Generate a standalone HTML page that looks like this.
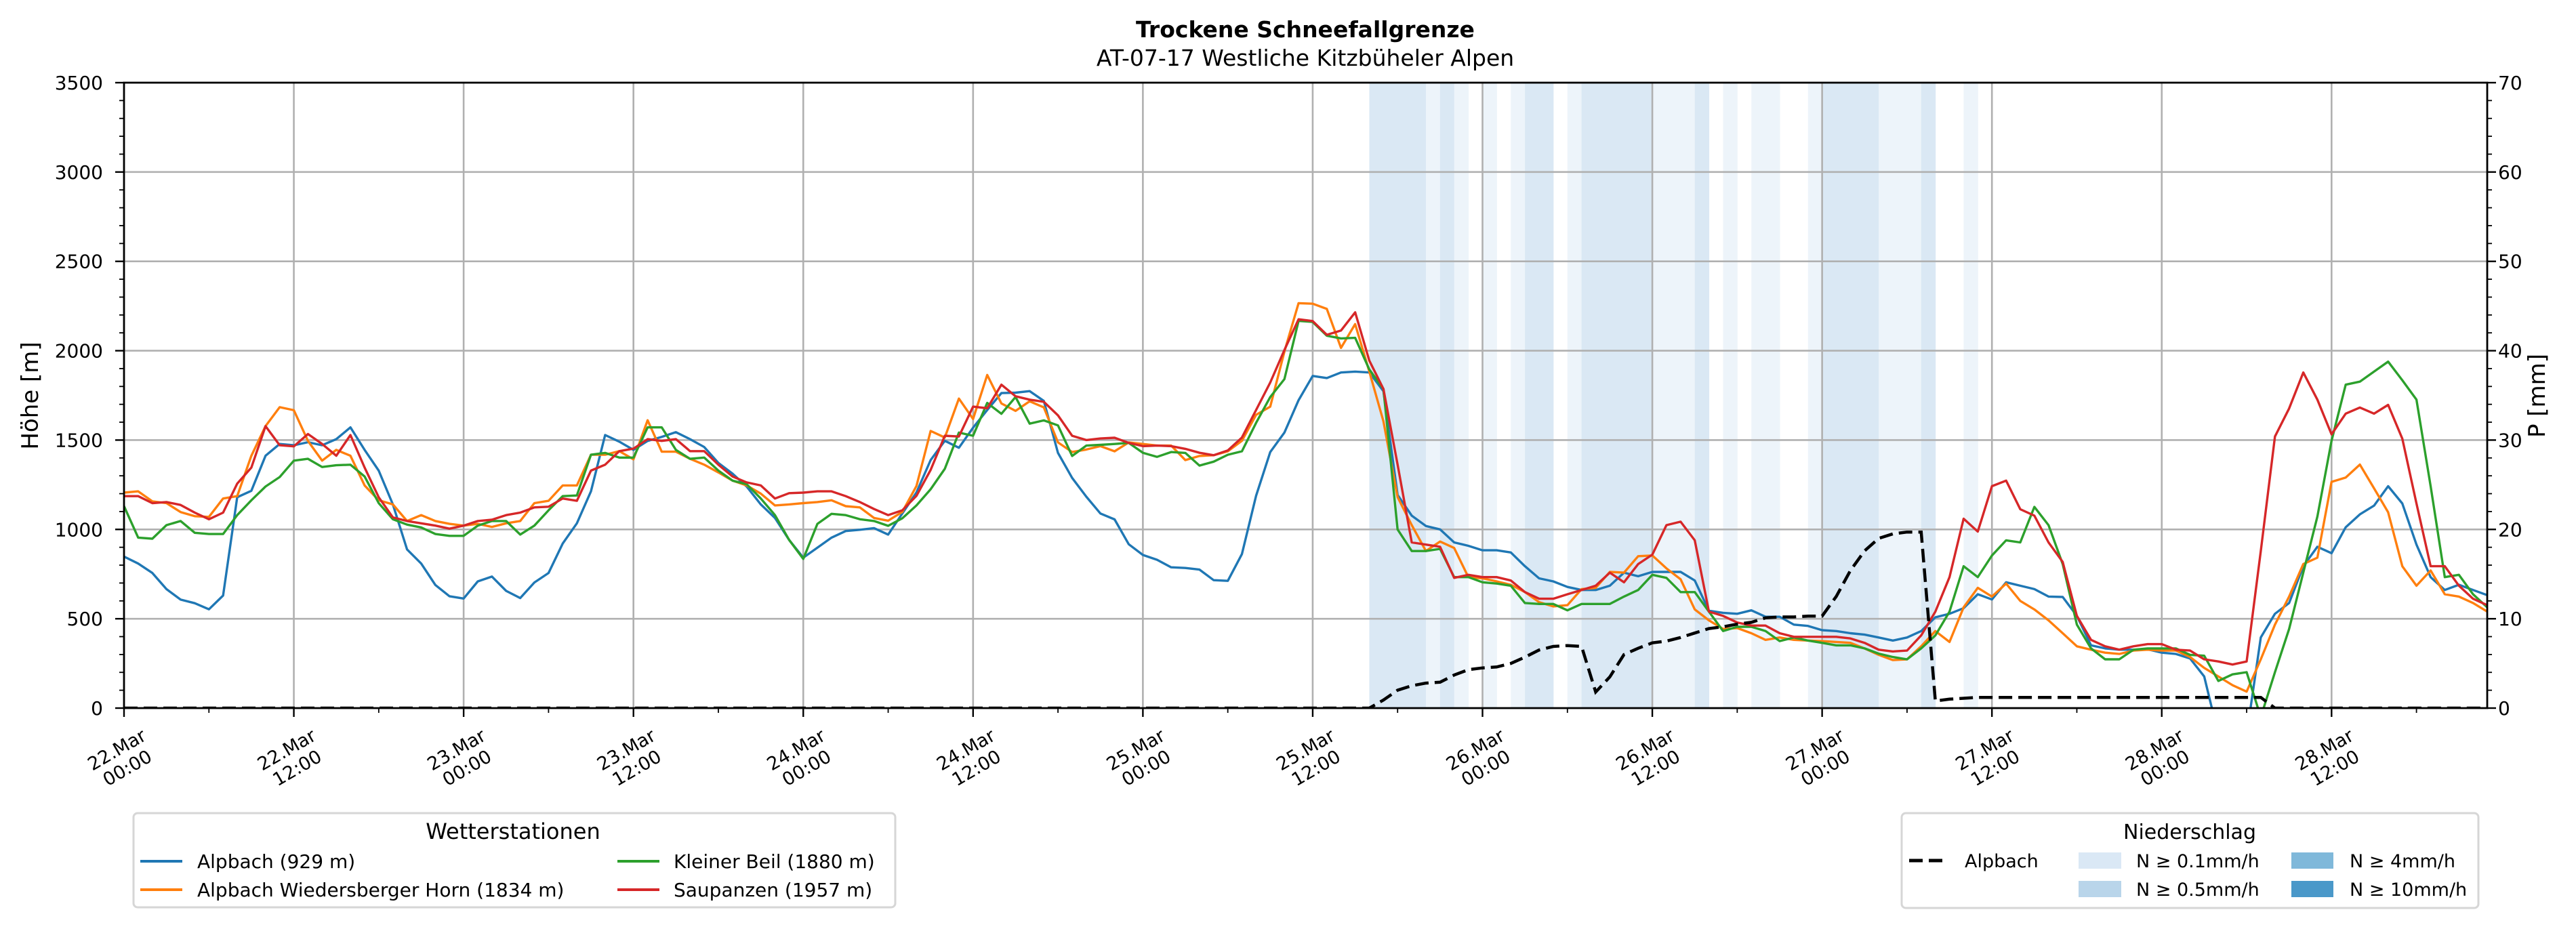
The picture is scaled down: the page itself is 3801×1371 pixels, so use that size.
<!DOCTYPE html>
<html><head><meta charset="utf-8">
<style>
html,body{margin:0;padding:0;background:#fff;}
svg{display:block;font-family:"DejaVu Sans","Liberation Sans",sans-serif;}
</style></head>
<body>
<svg id="chart" width="3801" height="1371" viewBox="0 0 3801 1371" xmlns="http://www.w3.org/2000/svg">
  <defs><clipPath id="plotclip"><rect x="183" y="122" width="3487" height="923"/></clipPath></defs>
  <rect x="0" y="0" width="3801" height="1371" fill="#fff"/>
  <text x="1926" y="55" text-anchor="middle" font-size="33" font-weight="bold">Trockene Schneefallgrenze</text>
  <text x="1926" y="97" text-anchor="middle" font-size="33">AT-07-17 Westliche Kitzbüheler Alpen</text>
  <g id="bands"></g>
  <g id="grid"></g>
  <g id="series" clip-path="url(#plotclip)"></g>
  <g id="axes"></g>
  <text transform="translate(56,584) rotate(-90)" text-anchor="middle" font-size="34">Höhe [m]</text>
  <text transform="translate(3755,584) rotate(-90)" text-anchor="middle" font-size="34">P [mm]</text>

  <g>
    <rect x="197" y="1200" width="1124" height="139" rx="6" fill="#fff" stroke="#d6d6d6" stroke-width="3"/>
    <text x="757" y="1238" text-anchor="middle" font-size="32">Wetterstationen</text>
    <g>
      <line x1="207" y1="1271" x2="269" y2="1271" stroke="#1f77b4" stroke-width="4"/>
      <text x="291" y="1281" font-size="28">Alpbach (929 m)</text></g>
    <g>
      <line x1="207" y1="1313" x2="269" y2="1313" stroke="#ff7f0e" stroke-width="4"/>
      <text x="291" y="1323" font-size="28">Alpbach Wiedersberger Horn (1834 m)</text></g>
    <g>
      <line x1="911" y1="1271" x2="973" y2="1271" stroke="#2ca02c" stroke-width="4"/>
      <text x="994" y="1281" font-size="28">Kleiner Beil (1880 m)</text></g>
    <g>
      <line x1="911" y1="1313" x2="973" y2="1313" stroke="#d62728" stroke-width="4"/>
      <text x="994" y="1323" font-size="28">Saupanzen (1957 m)</text></g>
  </g>

  <g>
    <rect x="2806" y="1200" width="851" height="140" rx="6" fill="#fff" stroke="#d6d6d6" stroke-width="3"/>
    <text x="3231" y="1238" text-anchor="middle" font-size="30">Niederschlag</text>
    <g>
      <line x1="2817" y1="1270" x2="2872" y2="1270" stroke="#000" stroke-width="5" stroke-dasharray="20 9"/>
      <text x="2899" y="1280" font-size="27">Alpbach</text></g>
    <g>
      <rect x="3067" y="1258" width="63" height="24" fill="#dae8f5"/>
      <text x="3152" y="1280" font-size="27">N ≥ 0.1mm/h</text></g>
    <g>
      <rect x="3067" y="1300" width="63" height="24" fill="#b9d5ea"/>
      <text x="3152" y="1322" font-size="27">N ≥ 0.5mm/h</text></g>
    <g>
      <rect x="3381" y="1258" width="62" height="24" fill="#7fb8da"/>
      <text x="3467" y="1280" font-size="27">N ≥ 4mm/h</text></g>
    <g>
      <rect x="3381" y="1300" width="62" height="24" fill="#4a98c9"/>
      <text x="3467" y="1322" font-size="27">N ≥ 10mm/h</text></g>
  </g>
</svg>
<script>
// ---- data (hourly, 22.Mar 00:00 .. 28.Mar 23:00) ----
const hoursCount = 168;
const alpbach = [848,809,756,666,607,587,553,630,1180,1216,1412,1478,1471,1488,1471,1505,1571,1445,1329,1140,888,809,689,626,613,709,736,656,616,703,756,921,1034,1213,1528,1491,1445,1495,1518,1544,1505,1461,1372,1312,1240,1140,1064,941,842,898,954,991,998,1007,
971,1089,1207,1388,1496,1457,1569,1668,1763,1765,1774,1719,1428,1288,1183,1089,1056,917,857,830,788,784,775,716,712,862,1188,1433,1542,1723,
1859,1847,1878,1883,1878,1774,1193,1077,1019,1000,927,908,883,883,871,794,726,709,678,661,661,685,758,738,762,762,762,714,545,533,528,547,511,511,467,460,436,431,419,411,395,378,395,431,508,528,559,637,608,704,685,666,624,622,516,351,334,327,327,329,310,303,278,177,-150,-150,-150,395,528,588,794,903,867,1012,1084,1133,1242,1145,915,733,661,690,661,632];
const wiedersberger = [1206,1213,1157,1147,1097,1074,1070,1173,1186,1412,1578,1684,1667,1495,1385,1445,1412,1246,1163,1140,1047,1080,1047,1031,1021,1031,1014,1034,1047,1147,1160,1246,1246,1418,1418,1438,1392,1611,1435,1435,1395,1362,1319,1273,1246,1200,1134,1140,1147,1153,1163,1130,1123,1064,
1049,1098,1243,1551,1514,1732,1618,1864,1705,1663,1717,1683,1487,1433,1447,1466,1437,1487,1478,1469,1469,1388,1411,1415,1437,1496,1641,1687,1995,2266,
2263,2234,2016,2149,1883,1605,1181,1024,879,932,896,733,726,709,690,649,593,569,576,666,673,762,758,850,854,782,721,552,491,443,448,419,382,395,382,378,375,370,365,334,298,269,273,346,431,370,564,673,624,697,600,552,491,419,346,327,310,303,322,327,322,322,286,225,177,128,92,273,467,624,806,842,1266,1290,1363,1230,1096,794,685,770,637,624,588,540];
const kleinerBeil = [1130,954,948,1024,1047,981,974,974,1080,1163,1240,1293,1385,1395,1349,1359,1362,1296,1147,1057,1027,1011,974,964,964,1021,1047,1047,971,1021,1107,1186,1190,1418,1428,1402,1402,1571,1571,1445,1395,1402,1329,1273,1253,1173,1080,941,835,1031,1087,1080,1057,1047,
1020,1062,1134,1225,1339,1542,1524,1708,1647,1741,1592,1610,1582,1411,1469,1473,1478,1484,1429,1406,1433,1428,1357,1379,1418,1437,1596,1741,1841,2167,
2161,2084,2069,2072,1895,1786,1000,879,879,891,733,733,704,697,685,588,583,583,547,583,583,583,624,661,746,729,649,649,540,431,455,455,431,375,395,378,365,351,351,334,305,286,273,334,407,540,794,733,854,939,927,1126,1024,806,467,334,273,273,327,334,334,334,298,293,152,189,201,-50,201,443,758,1072,1496,1810,1827,1883,1939,1835,1726,1242,733,746,637,564];
const saupanzen = [1186,1186,1147,1153,1137,1094,1057,1094,1256,1346,1578,1471,1465,1534,1478,1412,1528,1346,1180,1067,1047,1034,1021,1004,1021,1047,1054,1080,1094,1123,1127,1173,1160,1329,1362,1438,1452,1505,1495,1505,1438,1438,1362,1296,1263,1246,1173,1203,1206,1213,1213,1186,1153,1114,
1080,1107,1188,1333,1524,1520,1687,1678,1810,1745,1726,1714,1638,1524,1500,1509,1513,1484,1466,1469,1466,1451,1429,1415,1442,1514,1668,1822,2004,2176,
2166,2089,2113,2215,1944,1786,1363,927,915,903,729,746,733,733,714,649,612,612,637,661,685,758,704,806,859,1024,1043,939,540,516,479,462,462,419,399,399,399,399,390,365,327,317,322,407,540,733,1060,988,1242,1273,1113,1077,927,818,516,382,346,327,346,358,358,327,322,273,261,244,261,879,1520,1677,1878,1726,1532,1648,1682,1648,1697,1508,1145,794,794,685,612,576];
const precipHours = [88,89,90,91,92,93,94,95,96,97,98,99,100,101,102,103,104,105,106,107,108,109,110,111,112,113,114,115,116,117,118,119,120,121,122,123,124,125,126,127,128,129,130];
const precipValues = [0,0.9,2.0,2.5,2.8,2.9,3.7,4.3,4.5,4.6,5.0,5.7,6.5,6.9,7.0,6.9,1.8,3.5,6.0,6.7,7.3,7.5,7.9,8.4,8.9,9.1,9.4,9.6,10.1,10.2,10.2,10.3,10.3,12.5,15.4,17.6,19.0,19.5,19.7,19.7,0.8,1.0,1.1];
const precipTailValue = 1.2;   // hours 131..151
const precipTailEnd = 151;
const bandHours = [88,89,90,91,92,93,94,96,98,99,100,102,103,104,105,106,107,108,109,110,111,113,115,116,119,120,121,122,123,124,125,126,127,130];
const bandClass = [2,2,2,2,1,2,1,1,1,2,2,1,2,2,2,2,2,1,1,1,2,1,1,1,1,2,2,2,2,1,1,1,2,1];
const yTicksLeft = [0,500,1000,1500,2000,2500,3000,3500];
const yTicksRight = [0,10,20,30,40,50,60,70];

// ---- scales ----
const X0=183, X1=3670, Y0=1045, Y1=122, HMAX=167;
const xs = h => X0 + h*(X1-X0)/HMAX;
const yL = m => Y0 - m*(Y0-Y1)/3500;
const yR = mm => Y0 - mm*(Y0-Y1)/70;
const NS='http://www.w3.org/2000/svg';
function mk(tag, attrs, parent){const e=document.createElementNS(NS,tag);for(const k in attrs)e.setAttribute(k,attrs[k]);parent.appendChild(e);return e;}

// bands
const bandsG=document.getElementById('bands');
const bandColors={1:'#edf4fa',2:'#dae8f4'};
bandHours.forEach((h,i)=>{
  const r=mk('rect',{x:xs(h),y:Y1,width:xs(h+1)-xs(h)+0.5,height:Y0-Y1,fill:bandColors[bandClass[i]]},bandsG);
  
  
});

// grid
const gridG=document.getElementById('grid');
yTicksLeft.forEach(v=>{ if(v>0&&v<3500){const l=mk('line',{x1:X0,x2:X1,y1:yL(v),y2:yL(v),stroke:'#b0b0b0','stroke-width':2.6},gridG);
  
  }});
for(let h=12;h<=HMAX;h+=12){const l=mk('line',{x1:xs(h),x2:xs(h),y1:Y1,y2:Y0,stroke:'#b0b0b0','stroke-width':2.6},gridG);
  
  }

// series
const seriesG=document.getElementById('series');
function poly(vals, color, name){
  const pts=vals.map((v,i)=>xs(i).toFixed(1)+','+yL(v).toFixed(1)).join(' ');
  const p=mk('polyline',{points:pts,fill:'none',stroke:color,'stroke-width':3.4,'stroke-linejoin':'round'},seriesG);
  
  
}
poly(alpbach,'#1f77b4','line-alpbach');
poly(wiedersberger,'#ff7f0e','line-wiedersberger-horn');
poly(kleinerBeil,'#2ca02c','line-kleiner-beil');
poly(saupanzen,'#d62728','line-saupanzen');
// precipitation cumulative line
const pp=[];
for(let h=0;h<precipHours[0];h++) pp.push([h,0]);
precipHours.forEach((h,i)=>pp.push([h,precipValues[i]]));
for(let h=precipHours[precipHours.length-1]+1;h<=precipTailEnd;h++) pp.push([h,precipTailValue]);
for(let h=precipTailEnd+1;h<=HMAX;h++) pp.push([h,0]);
const pl=mk('polyline',{points:pp.map(a=>xs(a[0]).toFixed(1)+','+yR(a[1]).toFixed(1)).join(' '),fill:'none',stroke:'#000','stroke-width':4.5,'stroke-dasharray':'20 9'},seriesG);



// axes
const ax=document.getElementById('axes');
mk('rect',{x:X0,y:Y1,width:X1-X0,height:Y0-Y1,fill:'none',stroke:'#000','stroke-width':2.8},ax);
yTicksLeft.forEach(v=>{
  mk('line',{x1:X0-13,x2:X0,y1:yL(v),y2:yL(v),stroke:'#000','stroke-width':2.4},ax);
  const t=mk('text',{x:152,y:yL(v)+10,'text-anchor':'end','font-size':28},ax);
  t.textContent=v;
  
  
});
for(let v=100;v<3500;v+=100){ if(v%500) mk('line',{x1:X0-7,x2:X0,y1:yL(v),y2:yL(v),stroke:'#000','stroke-width':1.8},ax);}
yTicksRight.forEach(v=>{
  mk('line',{x1:X1,x2:X1+13,y1:yR(v),y2:yR(v),stroke:'#000','stroke-width':2.4},ax);
  const t=mk('text',{x:3686,y:yR(v)+10,'font-size':28},ax);
  t.textContent=v;
  
  
});
for(let v=2;v<70;v+=2){ if(v%10) mk('line',{x1:X1,x2:X1+7,y1:yR(v),y2:yR(v),stroke:'#000','stroke-width':1.8},ax);}
for(let h=0;h<=HMAX;h+=6){
  const major=h%12===0;
  mk('line',{x1:xs(h),x2:xs(h),y1:Y0,y2:Y0+(major?13:7),stroke:'#000','stroke-width':major?2.4:1.8},ax);
  if(major){
    const day=22+Math.floor(h/24), hh=(h%24===0)?'00:00':'12:00';
    const cx=xs(h)-4, cy=1118;
    const t=mk('text',{'font-size':27,'text-anchor':'middle',transform:`translate(${cx},${cy}) rotate(-30)`},ax);
    
    
    const a=mk('tspan',{x:0,dy:-4},t); a.textContent=day+'.Mar';
    const b=mk('tspan',{x:0,dy:31},t); b.textContent=hh;
  }
}
</script>
</body></html>
